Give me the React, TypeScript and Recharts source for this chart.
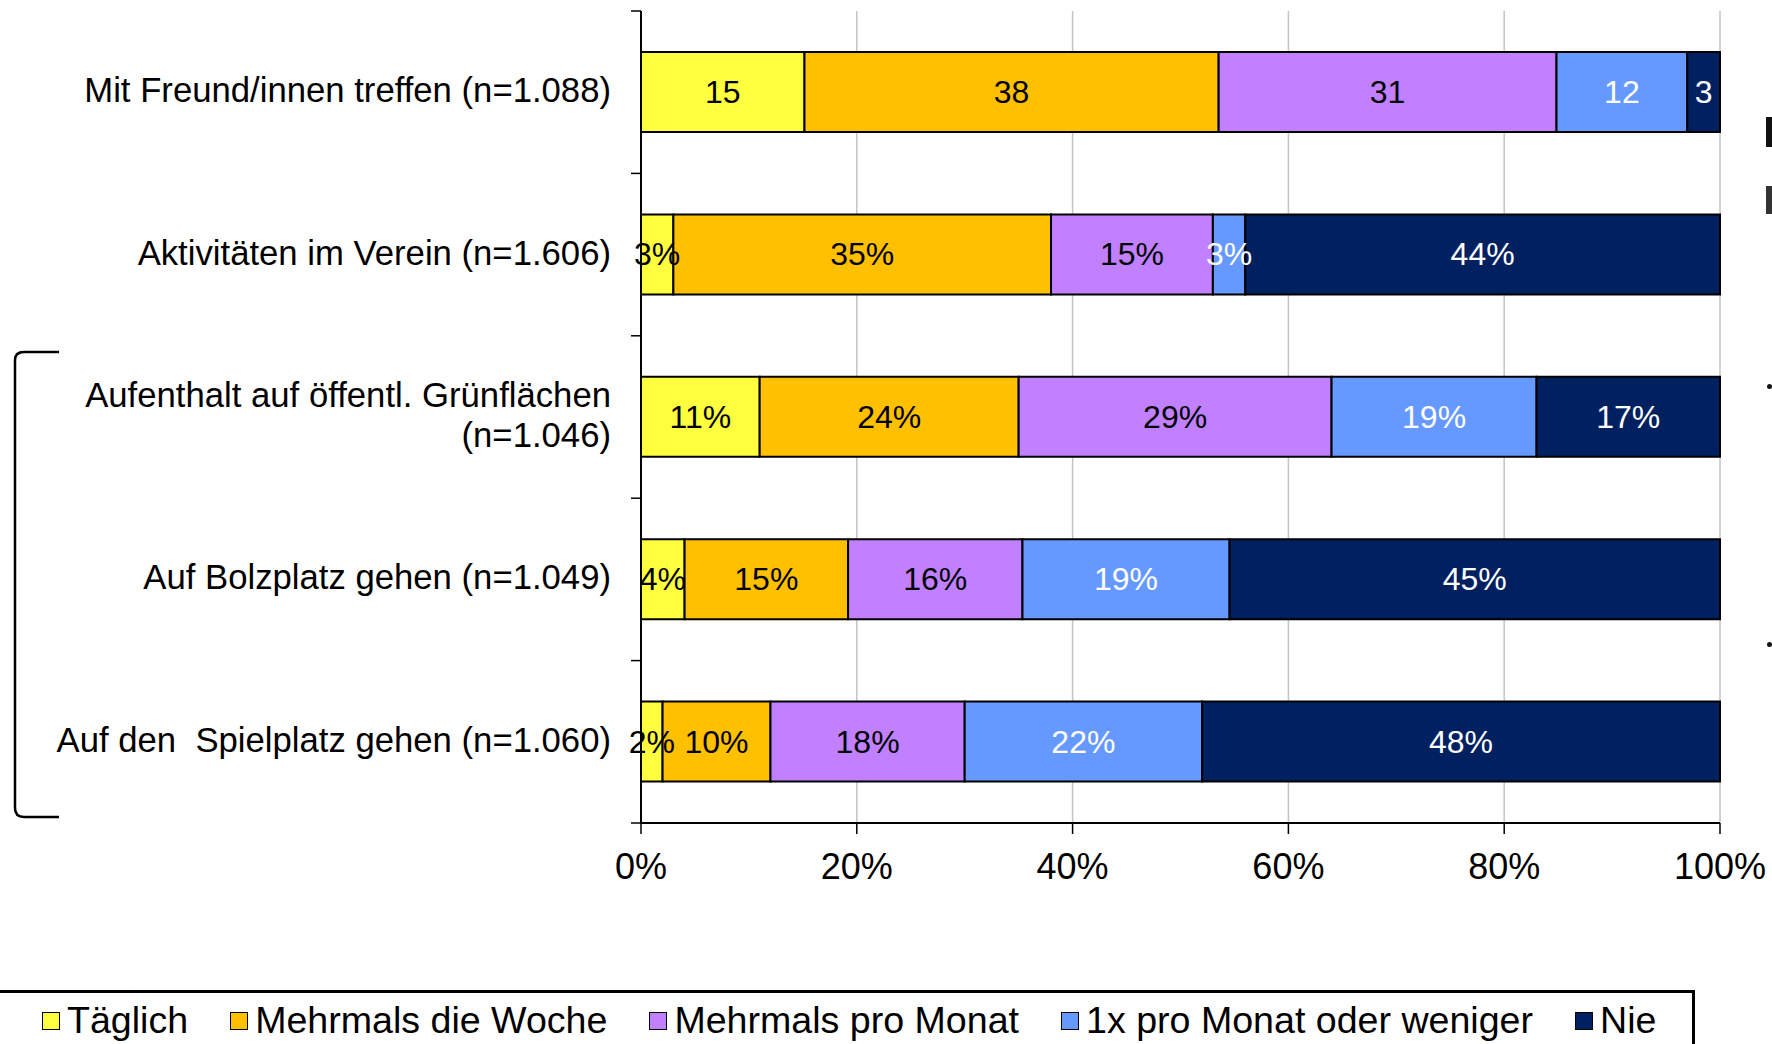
import React from 'react';
import { BarChart, Bar, XAxis, YAxis, CartesianGrid, Legend, LabelList } from 'recharts';

const categories = [
  'Mit Freund/innen treffen (n=1.088)',
  'Aktivitäten im Verein (n=1.606)',
  'Aufenthalt auf öffentl. Grünflächen\n(n=1.046)',
  'Auf Bolzplatz gehen (n=1.049)',
  'Auf den  Spielplatz gehen (n=1.060)',
];
const labelSuffix = ['', '%', '%', '%', '%'];

const seriesNames = ['Täglich', 'Mehrmals die Woche', 'Mehrmals pro Monat', '1x pro Monat oder weniger', 'Nie'];
const seriesKeys = ['taeglich', 'woche', 'monat', 'monatlich', 'nie'];
const seriesColors = ['#FFFF40', '#FFC000', '#C080FF', '#6699FF', '#002060'];
const labelColors = ['#000000', '#000000', '#000000', '#FFFFFF', '#FFFFFF'];

const taeglich = [15, 3, 11, 4, 2];
const mehrmalsWoche = [38, 35, 24, 15, 10];
const mehrmalsMonat = [31, 15, 29, 16, 18];
const monatlichOderWeniger = [12, 3, 19, 19, 22];
const nie = [3, 44, 17, 45, 48];

const seriesValues = [taeglich, mehrmalsWoche, mehrmalsMonat, monatlichOderWeniger, nie];
const xTicks = [0, 0.2, 0.4, 0.6, 0.8, 1];

const data = categories.map((c, i) => {
  const row: any = { name: c };
  seriesKeys.forEach((k, s) => {
    row[k] = seriesValues[s][i];
  });
  return row;
});

const FONT = '"Liberation Sans", Arial, Helvetica, sans-serif';

const CategoryTick = (props: any) => {
  const { x, y, payload, index } = props;
  const tx = Number(x);
  const ty = Number(y);
  const axisX = tx + 30;
  const half = payload && payload.offset ? Number(payload.offset) : 81.2;
  const lines = String(payload.value).split('\n');
  const lh = 40;
  const startY = ty - ((lines.length - 1) * lh) / 2 - 2;
  return (
    <g>
      <line x1={axisX - 10} x2={axisX} y1={ty - half} y2={ty - half} stroke="#000" strokeWidth={1.5} />
      {index === categories.length - 1 && (
        <line x1={axisX - 10} x2={axisX} y1={ty + half} y2={ty + half} stroke="#000" strokeWidth={1.5} />
      )}
      {lines.map((l, i) => (
        <text
          key={i}
          x={tx}
          y={startY + i * lh}
          textAnchor="end"
          dominantBaseline="central"
          fontSize={34.7}
          fontFamily={FONT}
          fill="#000"
          style={{ whiteSpace: 'pre' }}
        >
          {l}
        </text>
      ))}
    </g>
  );
};

const makeLabel = (s: number) => (props: any) => {
  const { x, y, width, height, index } = props;
  const v = seriesValues[s][index];
  return (
    <text
      x={Number(x) + Number(width) / 2}
      y={Number(y) + Number(height) / 2}
      textAnchor="middle"
      dominantBaseline="central"
      fontSize={32}
      fontFamily={FONT}
      fill={labelColors[s]}
    >
      {`${v}${labelSuffix[index]}`}
    </text>
  );
};

const renderLegend = () => (
  <div
    style={{
      display: 'flex',
      alignItems: 'center',
      height: '100%',
      boxSizing: 'border-box',
      border: '3px solid #000',
      paddingLeft: 42,
      paddingBottom: 18,
      fontFamily: FONT,
      fontSize: 37.6,
      color: '#000',
      background: '#fff',
    }}
  >
    {seriesNames.map((n, i) => (
      <div key={n} style={{ display: 'flex', alignItems: 'center', marginRight: 42 }}>
        <div
          style={{
            width: 16,
            height: 16,
            background: seriesColors[i],
            border: '1.5px solid #000',
            marginRight: 7,
          }}
        />
        <span style={{ whiteSpace: 'pre', lineHeight: 1 }}>{n}</span>
      </div>
    ))}
  </div>
);

export default function App() {
  return (
    <div
      style={{
        position: 'absolute',
        left: 0,
        top: 0,
        width: 1772,
        height: 1044,
        background: '#fff',
        overflow: 'hidden',
        fontFamily: FONT,
      }}
    >
      <BarChart
        width={1772}
        height={1044}
        data={data}
        layout="vertical"
        stackOffset="expand"
        margin={{ top: 11, right: 52, bottom: 161, left: 0 }}
        barSize={80}
      >
        <CartesianGrid horizontal={false} vertical stroke="#c4c4c4" strokeWidth={1.5} />
        <XAxis
          type="number"
          domain={[0, 1]}
          ticks={xTicks}
          height={60}
          tickSize={11}
          tickMargin={19}
          tickFormatter={(v: number) => `${Math.round(v * 100)}%`}
          tick={{ fontSize: 36, fontFamily: FONT, fill: '#000' }}
          axisLine={{ stroke: '#000', strokeWidth: 2 }}
          tickLine={{ stroke: '#000', strokeWidth: 1.5 }}
        />
        <YAxis
          type="category"
          dataKey="name"
          width={641}
          tickSize={10}
          tickMargin={20}
          tickLine={false}
          interval={0}
          tick={<CategoryTick />}
          axisLine={{ stroke: '#000', strokeWidth: 2 }}
        />
        <Legend
          layout="horizontal"
          verticalAlign="middle"
          align="center"
          content={renderLegend}
          wrapperStyle={{ position: 'absolute', left: -3, top: 990, width: 1698, height: 80 }}
        />
        {seriesKeys.map((k, s) => (
          <Bar
            key={k}
            dataKey={k}
            name={seriesNames[s]}
            stackId="a"
            fill={seriesColors[s]}
            stroke="#000"
            strokeWidth={2}
            isAnimationActive={false}
          >
            <LabelList dataKey={k} content={makeLabel(s)} />
          </Bar>
        ))}
      </BarChart>
      <svg
        width={80}
        height={500}
        style={{ position: 'absolute', left: 0, top: 340 }}
      >
        <path
          d="M59 12 L24 12 Q15 12 15 20 L15 468 Q15 477 24 477 L59 477"
          fill="none"
          stroke="#000"
          strokeWidth={2.5}
        />
      </svg>
      <div style={{ position: 'absolute', left: 1766, top: 117, width: 6, height: 30, background: '#111' }} />
      <div style={{ position: 'absolute', left: 1766, top: 186, width: 6, height: 28, background: '#333' }} />
      <div style={{ position: 'absolute', left: 1767, top: 384, width: 5, height: 5, borderRadius: 3, background: '#111' }} />
      <div style={{ position: 'absolute', left: 1767, top: 642, width: 5, height: 5, borderRadius: 3, background: '#111' }} />
    </div>
  );
}
